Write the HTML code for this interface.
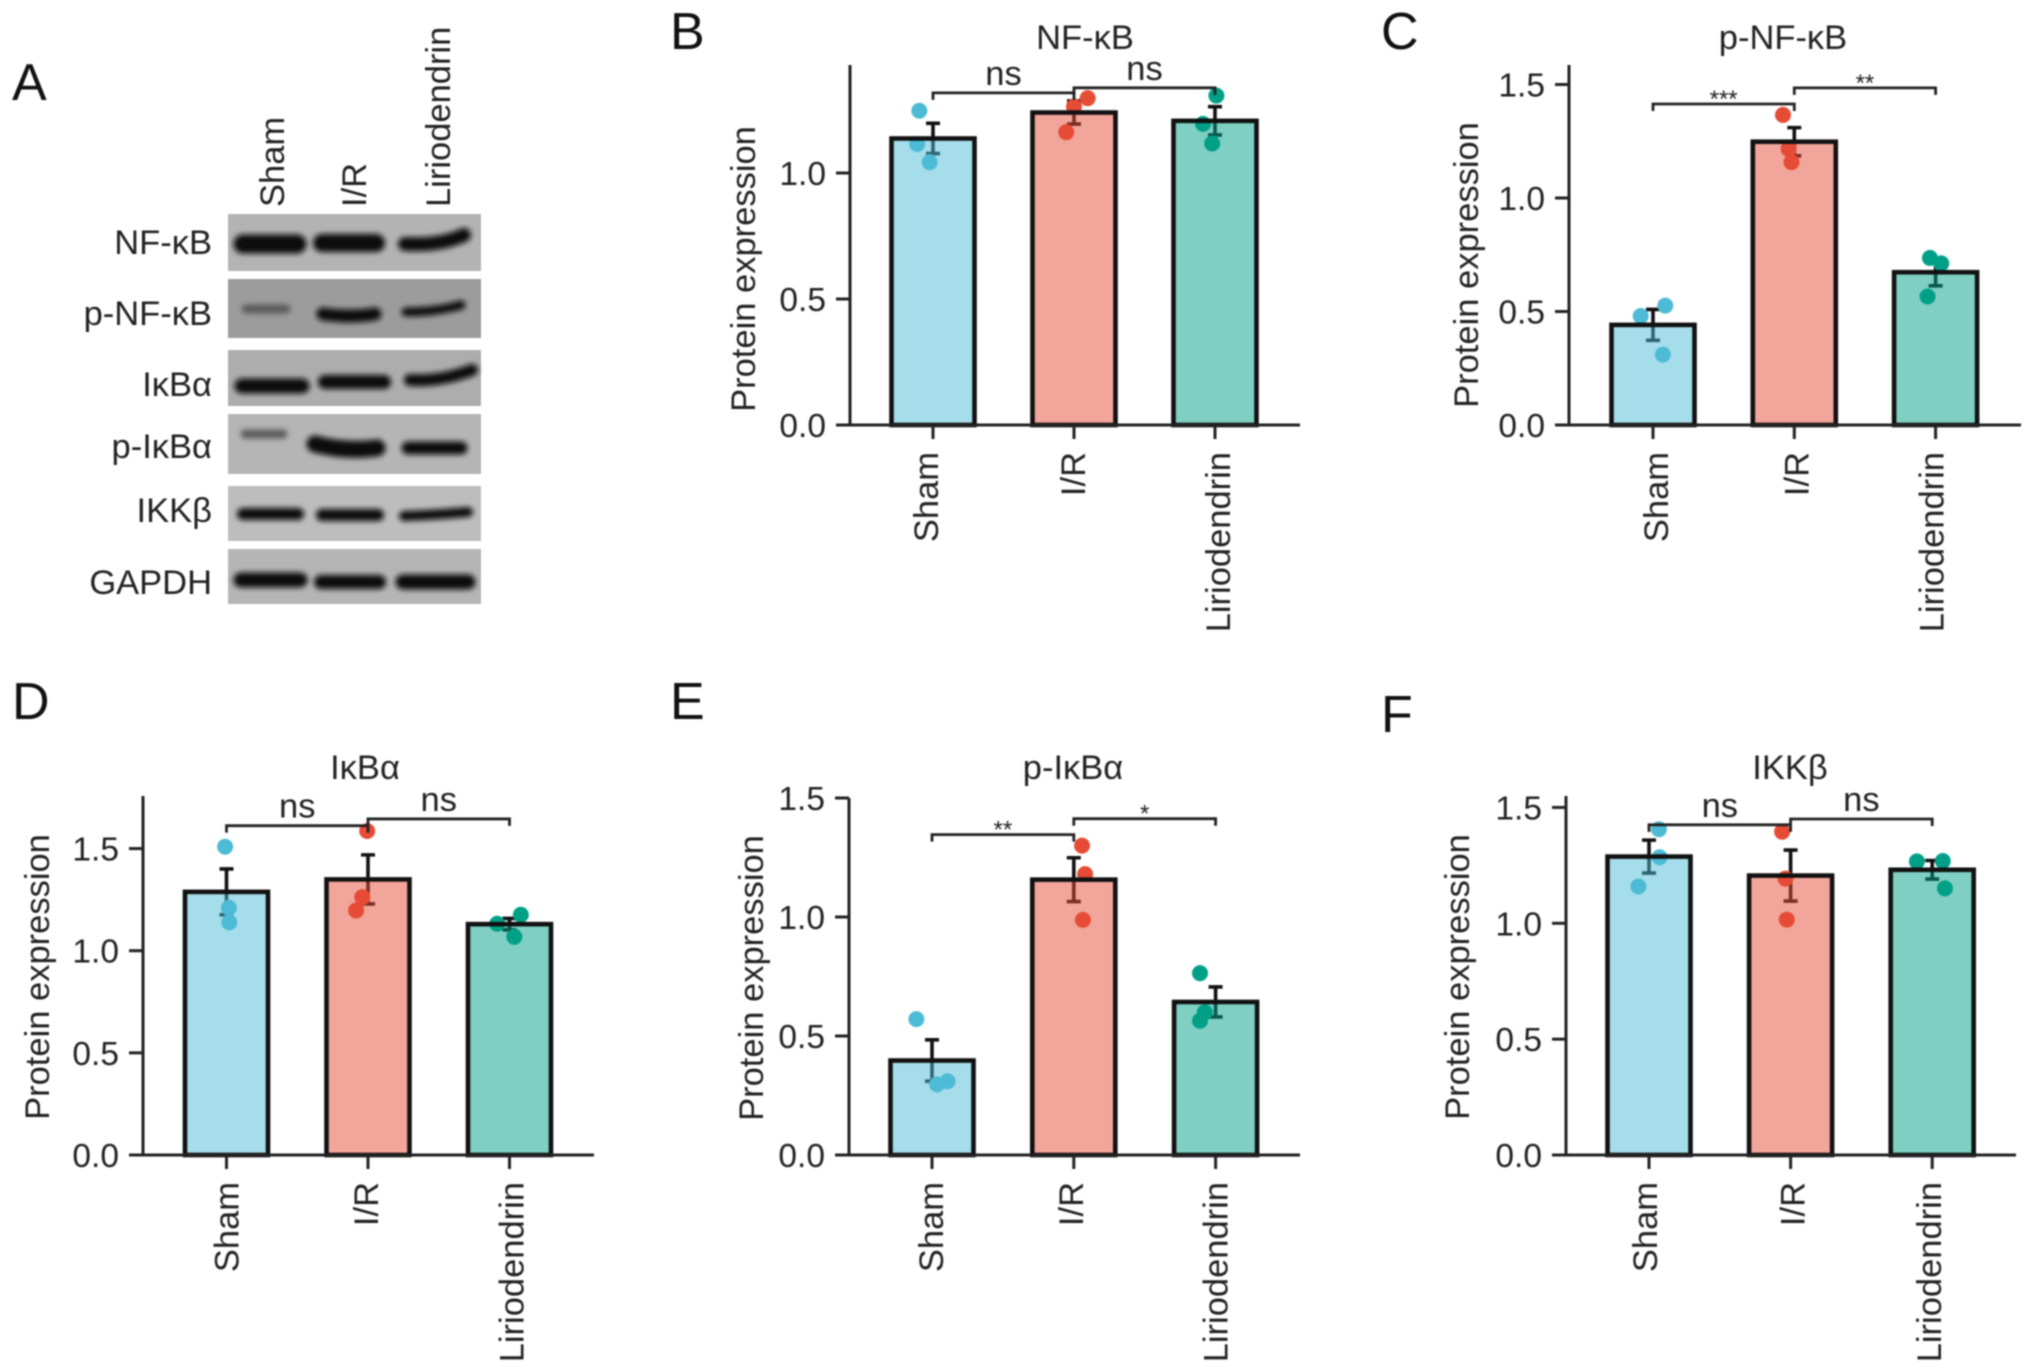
<!DOCTYPE html>
<html lang="en">
<head>
<meta charset="utf-8">
<title>Liriodendrin western blot and protein expression</title>
<style>
  html, body { margin: 0; padding: 0; background: #fff; }
  body { width: 2032px; height: 1371px; overflow: hidden; }
  svg { display: block; filter: blur(0.8px); }
  text { font-family: "Liberation Sans", "DejaVu Sans", sans-serif; fill: #222; }
  .letter { font-size: 52px; fill: #111; }
  .label { font-size: 34.5px; }
  .tick { font-size: 33.5px; }
</style>
</head>
<body>
<svg id="figure" xmlns="http://www.w3.org/2000/svg" width="2032" height="1371" viewBox="0 0 2032 1371">
  <defs>
    <filter id="band-blur" x="-20%" y="-100%" width="140%" height="300%"><feGaussianBlur stdDeviation="2.6"/></filter>
  </defs>
  <rect width="2032" height="1371" fill="#fff"/>

  <text class="letter" x="12" y="100">A</text>
  <text class="letter" x="670" y="49">B</text>
  <text class="letter" x="1381" y="49">C</text>
  <text class="letter" x="12" y="719">D</text>
  <text class="letter" x="670" y="719">E</text>
  <text class="letter" x="1381" y="732">F</text>

  <g id="blot">
    <text class="label" transform="translate(284,207) rotate(-90)">Sham</text>
    <text class="label" transform="translate(366,207) rotate(-90)">I/R</text>
    <text class="label" transform="translate(450,207) rotate(-90)">Liriodendrin</text>

    <text class="label" x="212" y="254" text-anchor="end">NF-κB</text>
    <text class="label" x="212" y="325" text-anchor="end">p-NF-κB</text>
    <text class="label" x="212" y="396" text-anchor="end">IκBα</text>
    <text class="label" x="212" y="458" text-anchor="end">p-IκBα</text>
    <text class="label" x="212" y="522" text-anchor="end">IKKβ</text>
    <text class="label" x="212" y="594" text-anchor="end">GAPDH</text>

    <rect x="228" y="214" width="253" height="57" fill="#b3b3b3"/>
    <rect x="228" y="279" width="253" height="59" fill="#9c9c9c"/>
    <rect x="228" y="350" width="253" height="56" fill="#adadad"/>
    <rect x="228" y="414" width="253" height="60" fill="#b5b5b5"/>
    <rect x="228" y="486" width="253" height="55" fill="#bdbdbd"/>
    <rect x="228" y="549" width="253" height="55" fill="#b5b5b5"/>

    <g fill="none" stroke="#0c0c0c" stroke-linecap="round" filter="url(#band-blur)">
      <path d="M243 244 H297" stroke-width="19"/>
      <path d="M322 243 H376" stroke-width="18"/>
      <path d="M405 244 Q440 246 464 235" stroke-width="14"/>
      <path d="M246 309 H286" stroke-width="9" stroke="#5a5a5a"/>
      <path d="M323 314 Q350 318 375 314" stroke-width="13"/>
      <path d="M406 312 Q436 312 461 305" stroke-width="9"/>
      <path d="M242 386 H302" stroke-width="15"/>
      <path d="M325 382 H384" stroke-width="14"/>
      <path d="M410 380 Q440 382 472 370" stroke-width="12"/>
      <path d="M245 434 H283" stroke-width="9" stroke="#5a5a5a"/>
      <path d="M315 444 Q345 452 377 448" stroke-width="17"/>
      <path d="M408 448 H461" stroke-width="13"/>
      <path d="M243 514 H298" stroke-width="12"/>
      <path d="M322 515 H378" stroke-width="12"/>
      <path d="M404 516 Q435 515 468 512" stroke-width="10"/>
      <path d="M241 580 H300" stroke-width="15"/>
      <path d="M321 582 H379" stroke-width="14"/>
      <path d="M403 582 H468" stroke-width="15"/>
    </g>
  </g>

  <g>
    <text class="label" x="1085" y="49" text-anchor="middle">NF-κB</text>
    <text class="label" x="1783" y="49" text-anchor="middle">p-NF-κB</text>
    <text class="label" x="365" y="779" text-anchor="middle">IκBα</text>
    <text class="label" x="1073" y="779" text-anchor="middle">p-IκBα</text>
    <text class="label" x="1790" y="779" text-anchor="middle">IKKβ</text>
  </g>
  <g>
    <text class="label" transform="translate(755,269) rotate(-90)" text-anchor="middle">Protein expression</text>
    <text class="label" transform="translate(1478,265) rotate(-90)" text-anchor="middle">Protein expression</text>
    <text class="label" transform="translate(49,977) rotate(-90)" text-anchor="middle">Protein expression</text>
    <text class="label" transform="translate(763,978) rotate(-90)" text-anchor="middle">Protein expression</text>
    <text class="label" transform="translate(1469,977) rotate(-90)" text-anchor="middle">Protein expression</text>
  </g>
  <g id="charts"></g>
</svg>

<script>
// ---- Chart data ----
const categories = ['Sham', 'I/R', 'Liriodendrin'];
const yTicksB = [0.0, 0.5, 1.0];
const yTicksC = [0.0, 0.5, 1.0, 1.5];
const yTicksD = [0.0, 0.5, 1.0, 1.5];
const yTicksE = [0.0, 0.5, 1.0, 1.5];
const yTicksF = [0.0, 0.5, 1.0, 1.5];

const meansB = [1.137, 1.24, 1.207];
const errorsB = [0.06, 0.046, 0.056];
const pointsB = [[1.247, 1.115, 1.043], [1.297, 1.264, 1.162], [1.307, 1.195, 1.117]];
const jitterB = [[-0.097, -0.112, -0.024], [0.097, 0, -0.055], [0.01, -0.085, -0.02]];
const bracketLevelsB = [1.318, 1.338];
const bracketLabelsB = ['ns', 'ns'];

const meansC = [0.441, 1.248, 0.673];
const errorsC = [0.068, 0.062, 0.06];
const pointsC = [[0.526, 0.48, 0.31], [1.366, 1.216, 1.158], [0.736, 0.712, 0.566]];
const jitterC = [[0.087, -0.087, 0.07], [-0.08, -0.04, -0.02], [-0.04, 0.04, -0.057]];
const bracketLevelsC = [1.414, 1.485];
const bracketLabelsC = ['***', '**'];

const meansD = [1.288, 1.349, 1.13];
const errorsD = [0.112, 0.12, 0.028];
const pointsD = [[1.509, 1.21, 1.139], [1.586, 1.262, 1.197], [1.176, 1.132, 1.068]];
const jitterD = [[-0.01, 0.017, 0.02], [-0.006, -0.04, -0.084], [0.08, -0.087, 0.034]];
const bracketLevelsD = [1.612, 1.645];
const bracketLabelsD = ['ns', 'ns'];

const meansE = [0.397, 1.157, 0.643];
const errorsE = [0.087, 0.092, 0.063];
const pointsE = [[0.571, 0.31, 0.297], [1.3, 1.18, 0.988], [0.764, 0.6, 0.564]];
const jitterE = [[-0.11, 0.11, 0.036], [0.058, 0.08, 0.064], [-0.11, -0.076, -0.11]];
const bracketLevelsE = [1.346, 1.413];
const bracketLabelsE = ['**', '*'];

const meansF = [1.288, 1.206, 1.231];
const errorsF = [0.071, 0.11, 0.04];
const pointsF = [[1.406, 1.285, 1.159], [1.395, 1.193, 1.016], [1.267, 1.269, 1.151]];
const jitterF = [[0.07, 0.075, -0.075], [-0.06, -0.036, -0.027], [-0.108, 0.075, 0.09]];
const bracketLevelsF = [1.425, 1.45];
const bracketLabelsF = ['ns', 'ns'];

// ---- Layout and style ----
const groupColors = ['#4dbbd5', '#e64b35', '#00a087'];
const charts = [
  { id: 'b', axisX: 850, xStart: 836, xEnd: 1300, x0: 933, step: 141, top: 65, base: 425, unit: 252, nudge: [5, 11, 15],
    ticks: yTicksB, means: meansB, errors: errorsB, points: pointsB, jitter: jitterB, levels: bracketLevelsB, marks: bracketLabelsB },
  { id: 'c', axisX: 1569, xStart: 1557, xEnd: 2021, x0: 1653, step: 141.3, top: 65, base: 425, unit: 227, nudge: [15, 14, 8],
    ticks: yTicksC, means: meansC, errors: errorsC, points: pointsC, jitter: jitterC, levels: bracketLevelsC, marks: bracketLabelsC },
  { id: 'd', axisX: 143, xStart: 129, xEnd: 594, x0: 226.5, step: 141.5, top: 796, base: 1155, unit: 204.3, nudge: [12, 10, 14],
    ticks: yTicksD, means: meansD, errors: errorsD, points: pointsD, jitter: jitterD, levels: bracketLevelsD, marks: bracketLabelsD },
  { id: 'e', axisX: 849, xStart: 835, xEnd: 1300, x0: 932, step: 141.8, top: 798, base: 1155, unit: 238, nudge: [11, 9, 12],
    ticks: yTicksE, means: meansE, errors: errorsE, points: pointsE, jitter: jitterE, levels: bracketLevelsE, marks: bracketLabelsE },
  { id: 'f', axisX: 1566, xStart: 1552, xEnd: 2016, x0: 1649, step: 141.6, top: 796, base: 1155, unit: 231.7, nudge: [8, 14, 9],
    ticks: yTicksF, means: meansF, errors: errorsF, points: pointsF, jitter: jitterF, levels: bracketLevelsF, marks: bracketLabelsF }
];

const SVG_NS = 'http://www.w3.org/2000/svg';
const root = document.getElementById('charts');

function make(parent, tag, attrs, content) {
  const node = document.createElementNS(SVG_NS, tag);
  for (const key in attrs) node.setAttribute(key, attrs[key]);
  if (content !== undefined) node.textContent = content;
  parent.appendChild(node);
  return node;
}

function drawChart(c) {
  const xScale = (position) => c.x0 + position * c.step;
  const yScale = (value) => c.base - value * c.unit;

  const group = make(root, 'g', {});
  
  

  c.means.forEach((mean, i) => {
    const color = groupColors[i];
    const cx = xScale(i);

    const errorBar = make(group, 'path', {
      d: 'M' + (cx - 7) + ' ' + yScale(mean + c.errors[i]) + 'H' + (cx + 7) +
         'M' + cx + ' ' + yScale(mean + c.errors[i]) + 'V' + yScale(mean - c.errors[i]) +
         'M' + (cx - 7) + ' ' + yScale(mean - c.errors[i]) + 'H' + (cx + 7),
      fill: 'none', stroke: '#111', 'stroke-width': 3.6
    });
    
    

    c.points[i].forEach((value, k) => {
      const dot = make(group, 'circle', {
        cx: xScale(i + c.jitter[i][k]), cy: yScale(value), r: 8, fill: color
      });
      
      
    });

    const bar = make(group, 'rect', {
      x: cx - 41.5, y: yScale(mean), width: 83, height: c.base - yScale(mean),
      fill: color, 'fill-opacity': 0.5, stroke: '#111', 'stroke-width': 4.6
    });
    
    

    const tick = make(group, 'line', {
      x1: cx, x2: cx, y1: c.base, y2: c.base + 14, stroke: '#222', 'stroke-width': 3
    });
    
    

    const label = make(group, 'text', {
      class: 'label', 'text-anchor': 'end',
      transform: 'translate(' + (cx + c.nudge[i]) + ',' + (c.base + 27) + ') rotate(-90)'
    }, categories[i]);
    
    
  });

  const yAxis = make(group, 'line', {
    x1: c.axisX, x2: c.axisX, y1: c.top, y2: c.base, stroke: '#222', 'stroke-width': 3
  });
  
  

  const xAxis = make(group, 'line', {
    x1: c.xStart, x2: c.xEnd, y1: c.base, y2: c.base, stroke: '#222', 'stroke-width': 3
  });
  
  

  c.ticks.forEach((value) => {
    const y = yScale(value);
    const tick = make(group, 'line', {
      x1: c.axisX - 14, x2: c.axisX, y1: y, y2: y, stroke: '#222', 'stroke-width': 3
    });
    
    

    const label = make(group, 'text', {
      class: 'tick', x: c.axisX - 24, y: y + 12, 'text-anchor': 'end'
    }, value.toFixed(1));
    
    
  });

  c.levels.forEach((level, i) => {
    const y = yScale(level);
    const bracket = make(group, 'path', {
      d: 'M' + xScale(i) + ' ' + (y + 7) + 'V' + y + 'H' + xScale(i + 1) + 'V' + (y + 7),
      fill: 'none', stroke: '#222', 'stroke-width': 2.8
    });
    
    

    const isStars = c.marks[i].indexOf('*') === 0;
    const mark = make(group, 'text', {
      x: xScale(i + 0.5), y: isStars ? y + 3 : y - 8, 'text-anchor': 'middle',
      style: 'font-size:' + (isStars ? 24 : 34.5) + 'px'
    }, c.marks[i]);
    
    
  });
}

charts.forEach(drawChart);
</script>
</body>
</html>
